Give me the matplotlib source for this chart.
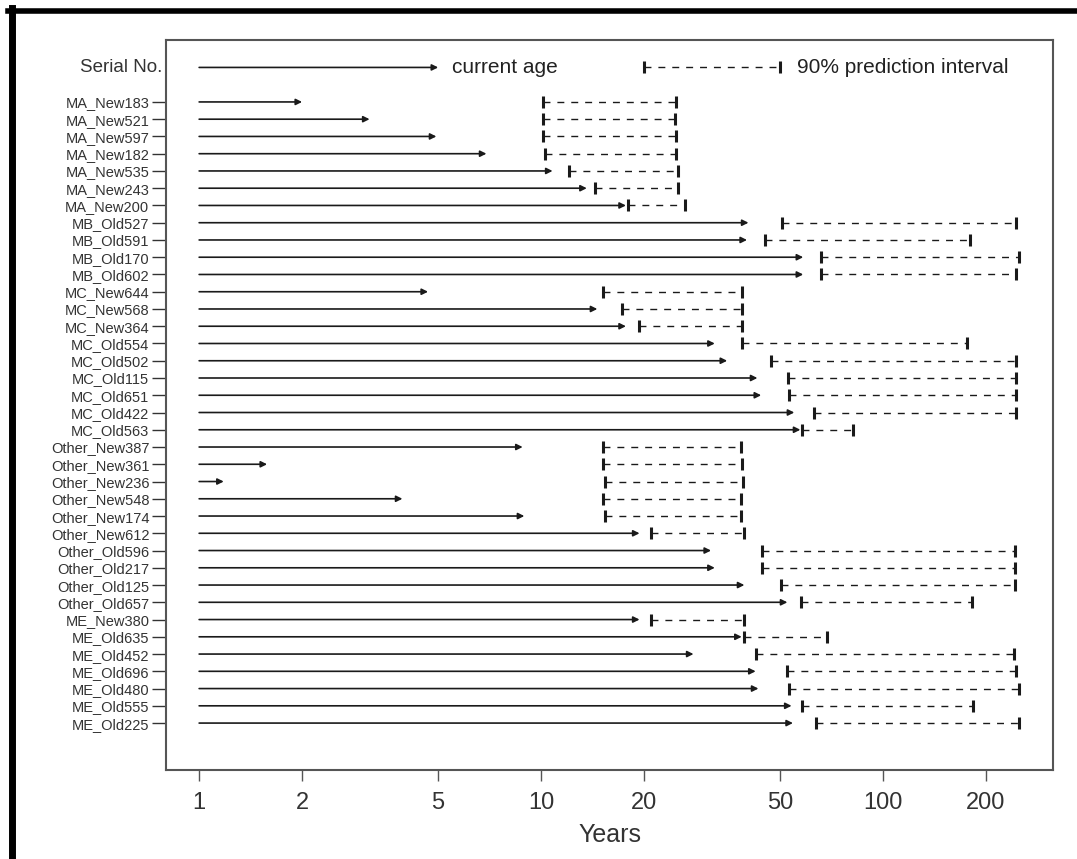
import matplotlib
matplotlib.use("Agg")
import matplotlib.pyplot as plt
import matplotlib.transforms as mtransforms
from matplotlib.lines import Line2D

plt.rcParams['font.family'] = ['Liberation Sans', 'DejaVu Sans']

# serial numbers, top to bottom
serials = ["MA_New183", "MA_New521", "MA_New597", "MA_New182", "MA_New535", "MA_New243", "MA_New200",
           "MB_Old527", "MB_Old591", "MB_Old170", "MB_Old602",
           "MC_New644", "MC_New568", "MC_New364", "MC_Old554", "MC_Old502", "MC_Old115", "MC_Old651",
           "MC_Old422", "MC_Old563",
           "Other_New387", "Other_New361", "Other_New236", "Other_New548", "Other_New174", "Other_New612",
           "Other_Old596", "Other_Old217", "Other_Old125", "Other_Old657",
           "ME_New380", "ME_Old635", "ME_Old452", "ME_Old696", "ME_Old480", "ME_Old555", "ME_Old225"]

# current age (years)
current_age = [2.0, 3.15, 4.94, 6.92, 10.8, 13.6, 17.7,
               40.4, 40.0, 58.4, 58.4,
               4.67, 14.6, 17.7, 32.2, 35.0, 42.9, 44.0, 55.0, 57.3,
               8.83, 1.58, 1.18, 3.93, 8.93, 19.4, 31.4, 32.2, 39.3, 52.5,
               19.4, 38.6, 27.9, 42.4, 43.2, 54.0, 54.5]

# 90% prediction interval
pi_lower = [10.1, 10.1, 10.1, 10.3, 12.1, 14.4, 18.0,
            50.8, 45.3, 66.0, 66.0,
            15.2, 17.2, 19.3, 38.6, 46.9, 52.9, 53.2, 62.9, 58.0,
            15.2, 15.2, 15.4, 15.2, 15.4, 20.9, 44.3, 44.3, 50.4, 57.6,
            20.9, 39.3, 42.6, 52.5, 53.2, 58.0, 63.8]
pi_upper = [24.8, 24.7, 24.8, 24.8, 25.1, 25.2, 26.3,
            245, 179, 249, 245,
            38.6, 38.6, 38.8, 176, 245, 245, 244, 244, 81.5,
            38.3, 38.6, 38.9, 38.3, 38.3, 39.1, 243, 243, 243, 182,
            39.1, 68.5, 241, 245, 249, 183, 249]

xticks = [1, 2, 5, 10, 20, 50, 100, 200]

fig = plt.figure(figsize=(10.77, 8.59), dpi=100)
ax = fig.add_axes([166/1077, 1 - 770/859, (1053-166)/1077, (770-40)/859])
ax.set_xscale('log')
ax.set_xlim(0.80, 314)
ax.set_ylim(39.72, -2.59)

rows = list(range(1, len(serials) + 1))
arrow_kw = dict(arrowstyle='-|>', color='#1a1a1a', lw=1.2, mutation_scale=9, shrinkA=0, shrinkB=0)

for y, age, lo, hi in zip(rows, current_age, pi_lower, pi_upper):
    ax.annotate('', xy=(age, y), xytext=(1, y), arrowprops=arrow_kw)
    ax.plot([lo, hi], [y, y], ls=(0, (5, 5)), color='#1a1a1a', lw=1.0)
    ax.plot([lo, hi], [y, y], ls='none', marker='|', ms=8, mew=2.2, color='#1a1a1a')

# key row
ax.annotate('', xy=(5, -1), xytext=(1, -1), arrowprops=arrow_kw)
ax.annotate('current age', xy=(5, -1), xytext=(10, 0), textcoords='offset points',
            va='center', ha='left', fontsize=15, color='#222222')
ax.plot([20, 50], [-1, -1], ls=(0, (5, 5)), color='#1a1a1a', lw=1.0)
ax.plot([20, 50], [-1, -1], ls='none', marker='|', ms=8, mew=2.2, color='#1a1a1a')
ax.annotate('90% prediction interval', xy=(50, -1), xytext=(12, 0), textcoords='offset points',
            va='center', ha='left', fontsize=15, color='#222222')

trans = mtransforms.blended_transform_factory(ax.transAxes, ax.transData)
ax.text(-0.004, -1, 'Serial No.', transform=trans, ha='right', va='center', fontsize=13.5, color='#333333')

ax.set_yticks(rows)
ax.set_yticklabels(serials, fontsize=10.5, color='#3a3a3a')
ax.tick_params(axis='y', length=10, width=1, pad=2, colors='#333333')

ax.set_xticks(xticks)
ax.set_xticklabels([str(v) for v in xticks], fontsize=17, color='#333333')
ax.minorticks_off()
ax.tick_params(axis='x', length=8, width=1, pad=8, colors='#555555', labelcolor='#333333')
ax.set_xlabel('Years', fontsize=18, color='#333333', labelpad=6)

for sp in ax.spines.values():
    sp.set_color('#555555')
    sp.set_linewidth(1.5)

# outer frame of the scanned figure
fig.add_artist(Line2D([8/1077, 1], [1 - 10.5/859, 1 - 10.5/859], transform=fig.transFigure, color='k', lw=4))
fig.add_artist(Line2D([11.5/1077, 11.5/1077], [0, 1 - 8/859], transform=fig.transFigure, color='k', lw=5))

fig.savefig('out.png', dpi=100)
